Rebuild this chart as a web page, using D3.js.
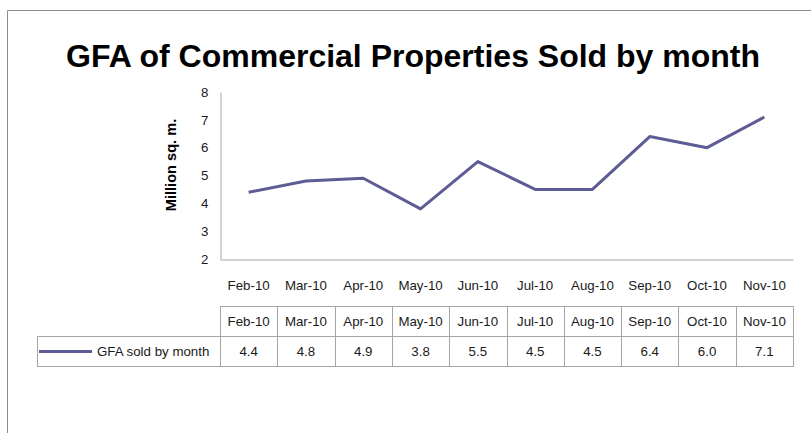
<!DOCTYPE html>
<html>
<head>
<meta charset="utf-8">
<script src="https://cdn.jsdelivr.net/npm/d3@7"></script>
<style>
  html, body { margin: 0; padding: 0; background: #fff; }
  svg { display: block; font-family: "Liberation Sans", Arial, Helvetica, sans-serif; }
</style>
</head>
<body>
<svg id="chart" width="811" height="433"></svg>
<script>
// Monthly GFA of commercial properties sold (million sq. m.)
const months = ["Feb-10", "Mar-10", "Apr-10", "May-10", "Jun-10", "Jul-10", "Aug-10", "Sep-10", "Oct-10", "Nov-10"];
const gfaSold = [4.4, 4.8, 4.9, 3.8, 5.5, 4.5, 4.5, 6.4, 6.0, 7.1];
const yTicks = [2, 3, 4, 5, 6, 7, 8];
const seriesName = "GFA sold by month";
const chartTitle = "GFA of Commercial Properties Sold by month";
const yLabel = "Million sq. m.";

const svg = d3.select("#chart");
const lineColor = "#5e5c95";
const gridGray = "#a6a6a6";
const textColor = "#1a1a1a";
const labelSize = 13.3;

// outer frame (top and left edges)
svg.append("path")
  .attr("d", "M7.5,433 V10.5 H811")
  .attr("fill", "none")
  .attr("stroke", "#8c8c8c")
  .attr("stroke-width", 1);

// title
svg.append("text")
  .attr("x", 413)
  .attr("y", 67)
  .attr("text-anchor", "middle")
  .attr("font-size", 32)
  .attr("font-weight", "bold")
  .attr("fill", "#000")
  .text(chartTitle);

const plot = { left: 220, right: 793, top: 92, bottom: 259 };

const x = d3.scaleBand().domain(months).range([plot.left, plot.right]);
const y = d3.scaleLinear().domain([2, 8]).range([plot.bottom, plot.top]);

// y axis
const yAxis = svg.append("g")
  .attr("transform", `translate(${plot.left + 0.5},0)`)
  .call(d3.axisLeft(y).tickValues(yTicks).tickSize(0).tickPadding(12).tickFormat(d3.format("d")));
yAxis.select(".domain").attr("stroke", gridGray);
yAxis.selectAll("text").attr("font-size", labelSize).attr("fill", textColor).attr("font-family", "Liberation Sans, Arial, sans-serif");

// x axis
const xAxis = svg.append("g")
  .attr("transform", `translate(0,${plot.bottom + 0.5})`)
  .call(d3.axisBottom(x).tickSize(0).tickPadding(21));
xAxis.select(".domain").attr("stroke", gridGray);
xAxis.selectAll("text").attr("font-size", labelSize).attr("fill", textColor).attr("font-family", "Liberation Sans, Arial, sans-serif");

// y axis title
svg.append("text")
  .attr("transform", "translate(176,165) rotate(-90)")
  .attr("text-anchor", "middle")
  .attr("font-size", 14.6)
  .attr("font-weight", "bold")
  .attr("fill", "#000")
  .text(yLabel);

// series line
const line = d3.line()
  .x((d, i) => x(months[i]) + x.bandwidth() / 2)
  .y(d => y(d));

svg.append("path")
  .datum(gfaSold)
  .attr("d", line)
  .attr("fill", "none")
  .attr("stroke", lineColor)
  .attr("stroke-width", 3)
  .attr("stroke-linejoin", "round");

// data table
const table = { top: 306, mid: 336, bottom: 366, legendLeft: 37 };
const tbl = svg.append("g").attr("stroke", gridGray).attr("stroke-width", 1).attr("fill", "none");

// header row
tbl.append("rect")
  .attr("x", plot.left + 0.5).attr("y", table.top + 0.5)
  .attr("width", plot.right - plot.left).attr("height", table.mid - table.top);
// value row including legend key cell
tbl.append("rect")
  .attr("x", table.legendLeft + 0.5).attr("y", table.mid + 0.5)
  .attr("width", plot.right - table.legendLeft).attr("height", table.bottom - table.mid);
// column separators
tbl.selectAll("line.col")
  .data(months.slice(1))
  .join("line")
  .attr("class", "col")
  .attr("x1", d => Math.round(x(d)) + 0.5)
  .attr("x2", d => Math.round(x(d)) + 0.5)
  .attr("y1", table.top)
  .attr("y2", table.bottom);
tbl.append("line")
  .attr("x1", plot.left + 0.5).attr("x2", plot.left + 0.5)
  .attr("y1", table.mid).attr("y2", table.bottom);

// header labels
svg.append("g").selectAll("text")
  .data(months)
  .join("text")
  .attr("x", d => x(d) + x.bandwidth() / 2)
  .attr("y", table.top + 19.5)
  .attr("text-anchor", "middle")
  .attr("font-size", labelSize)
  .attr("fill", textColor)
  .text(d => d);

// value labels
svg.append("g").selectAll("text")
  .data(gfaSold)
  .join("text")
  .attr("x", (d, i) => x(months[i]) + x.bandwidth() / 2)
  .attr("y", table.mid + 19.5)
  .attr("text-anchor", "middle")
  .attr("font-size", labelSize)
  .attr("fill", textColor)
  .text(d => d3.format(".1f")(d));

// legend key
svg.append("line")
  .attr("x1", 39).attr("x2", 92)
  .attr("y1", table.mid + 15.5).attr("y2", table.mid + 15.5)
  .attr("stroke", lineColor)
  .attr("stroke-width", 3);
svg.append("text")
  .attr("x", 97)
  .attr("y", table.mid + 19.5)
  .attr("font-size", labelSize)
  .attr("fill", textColor)
  .text(seriesName);
</script>
</body>
</html>
